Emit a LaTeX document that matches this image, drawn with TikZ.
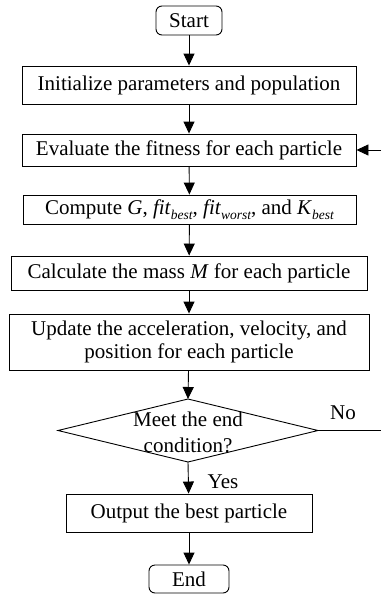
\documentclass[tikz,border=0pt]{standalone}
\usepackage{fontspec}
\setmainfont{Liberation Serif}
\usetikzlibrary{arrows.meta}
\newcommand\mysubit[1]{\raisebox{-0.22em}{\fontsize{13.5}{13.5}\selectfont\itshape #1}}
\begin{document}
\begin{tikzpicture}[x=1pt,y=-1pt,
  txt/.style={font=\fontsize{21}{23.5}\selectfont},
  box/.style={draw,line width=0.9pt,inner sep=0pt,align=center,txt},
  term/.style={box,rounded corners=6pt},
  arr/.style={line width=0.9pt,-{Triangle[width=11pt,length=12pt]}},
  ln/.style={line width=0.9pt},
  lbl/.style={txt,inner sep=0pt}]
\useasboundingbox (0,0) rectangle (381,595);
\node[term,minimum width=66pt,minimum height=29pt] (start) at (189,20.5) {Start};
\node[box,minimum width=334pt,minimum height=38pt] (init) at (189,85) {Initialize parameters and population};
\node[box,minimum width=334pt,minimum height=32pt] (eval) at (189,150) {Evaluate the fitness for each particle};
\node[box,minimum width=333pt,minimum height=29pt] (comp) at (189.5,209.5)
  {Compute \textit{G}, \textit{fit}\mysubit{best}, \textit{fit}\mysubit{worst}, and \textit{K}\mysubit{best}};
\node[box,minimum width=356pt,minimum height=34pt] (calc) at (189,273) {Calculate the mass \textit{M} for each particle};
\node[box,minimum width=360pt,minimum height=56pt] (upd) at (189,342) {Update the acceleration, velocity, and\\position for each particle};
\coordinate (ctop) at (188,399);
\coordinate (cbot) at (188,462);
\coordinate (cleft) at (58,430.5);
\coordinate (cright) at (318,430.5);
\draw[ln] (ctop) -- (cright) -- (cbot) -- (cleft) -- cycle;
\node[align=center,inner sep=0pt,font=\fontsize{21}{26}\selectfont] (cond) at (188,432) {Meet the end\\condition?};
\node[box,minimum width=246pt,minimum height=38pt] (out) at (189,513) {Output the best particle};
\node[term,minimum width=80pt,minimum height=28pt] (end) at (189,579) {End};
\node[lbl] (no) at (343,413) {No};
\node[lbl] (yes) at (223,482) {Yes};
\coordinate (noend) at (381,430.5);
\coordinate (back) at (381,150);
\draw[arr] (start) -- (init);
\draw[arr] (init) -- (eval);
\draw[arr] (eval) -- (comp);
\draw[arr] (comp) -- (calc);
\draw[arr] (calc) -- (upd);
\draw[arr] (upd) -- (ctop);
\draw[arr] (cbot) -- (out);
\draw[arr] (out) -- (end);
\draw[ln] (cright) -- (noend);
\draw[arr] (back) -- (eval.east);
\end{tikzpicture}
\end{document}
